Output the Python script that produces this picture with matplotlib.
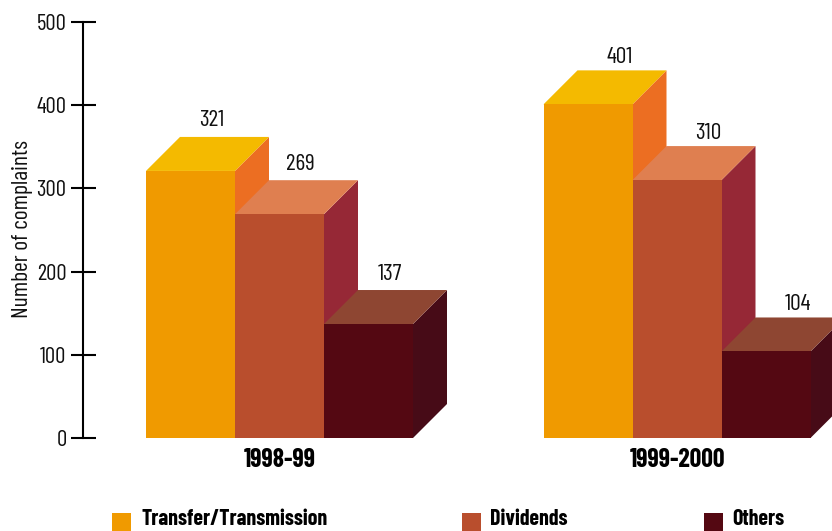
import matplotlib

matplotlib.use("Agg")

import matplotlib.pyplot as plt
from matplotlib.patches import Polygon, Rectangle

plt.rcParams["font.family"] = ["Barlow Condensed", "Liberation Sans", "DejaVu Sans"]

W, H = 832, 531
X0_PX, Y0_PX = 146, 438
BAR_PX = 89
UNIT_PX = 416 / 500

periods = ["1998-99", "1999-2000"]
categories = ["Transfer/Transmission", "Dividends", "Others"]
complaints_9899 = [321, 269, 137]
complaints_9900 = [401, 310, 104]
y_ticks = [0, 100, 200, 300, 400, 500]

FRONT = ["#F09A00", "#B94E2D", "#540812"]
TOP = ["#F4BA00", "#DF7F50", "#8E4632"]
SIDE = ["#EC6E22", "#962836", "#470B17"]
INK = "#111111"

GROUP_STARTS = [0, 397.5 / BAR_PX]
LABEL_DX = [21 / BAR_PX, 31.5 / BAR_PX]
LABEL_DY = [16 / UNIT_PX, 12.5 / UNIT_PX]
DX = 34 / BAR_PX
DY = 34 / UNIT_PX

fig = plt.figure(figsize=(W / 100, H / 100), dpi=100)
ax = fig.add_axes([0, 0, 1, 1])
ax.set_xlim(-X0_PX / BAR_PX, (W - X0_PX) / BAR_PX)
ax.set_ylim((Y0_PX - H) / UNIT_PX, Y0_PX / UNIT_PX)

for g, values in enumerate([complaints_9899, complaints_9900]):
    start = GROUP_STARTS[g]
    for i, v in enumerate(values):
        x = start + i
        ax.add_patch(Polygon([(x + 1, 0), (x + 1 + DX, DY), (x + 1 + DX, v + DY), (x + 1, v)],
                             facecolor=SIDE[i], edgecolor="none", zorder=2 + i))
        ax.add_patch(Polygon([(x, v), (x + DX, v + DY), (x + 1 + DX, v + DY), (x + 1, v)],
                             facecolor=TOP[i], edgecolor="none", zorder=2 + i))
        ax.bar(x, v, width=1, align="edge", color=FRONT[i], linewidth=0, zorder=2 + i)
        ax.text(x + 0.5 + LABEL_DX[g], v + DY + LABEL_DY[g], str(v), ha="center", va="center",
                fontsize=17, color=INK, zorder=6)
    ax.text(start + 1.5, -27, periods[g], ha="center", va="center",
            fontsize=18.5, fontweight="bold", color="black")

# axis line with long crossing ticks
for name in ["top", "right", "bottom"]:
    ax.spines[name].set_visible(False)
ax.spines["left"].set_position(("data", (82.5 - X0_PX) / BAR_PX))
ax.spines["left"].set_bounds(0, 500)
ax.spines["left"].set_linewidth(1.5)
ax.set_xticks([])
ax.set_yticks(y_ticks)
ax.tick_params(axis="y", direction="inout", length=18, width=1.5, pad=2.5, labelsize=16.5, labelcolor=INK)
ax.patch.set_visible(False)

ax.text((23 - X0_PX) / BAR_PX, (Y0_PX - 229) / UNIT_PX, "Number of complaints", rotation=90,
        ha="center", va="center", fontsize=17, color=INK)

# legend swatches run off the bottom edge like the original
legend_px = [(112, 141), (462, 490), (704, 732)]
for (box_x, text_x), label, colour in zip(legend_px, categories, FRONT):
    ax.add_patch(Rectangle(((box_x - X0_PX) / BAR_PX, (Y0_PX - 531) / UNIT_PX), 19 / BAR_PX, 18 / UNIT_PX,
                           facecolor=colour, edgecolor="none"))
    ax.text((text_x - X0_PX) / BAR_PX, (Y0_PX - 519) / UNIT_PX, label, ha="left", va="center",
            fontsize=15.8, fontweight="bold", color="black")

fig.savefig("out.png", dpi=100)
